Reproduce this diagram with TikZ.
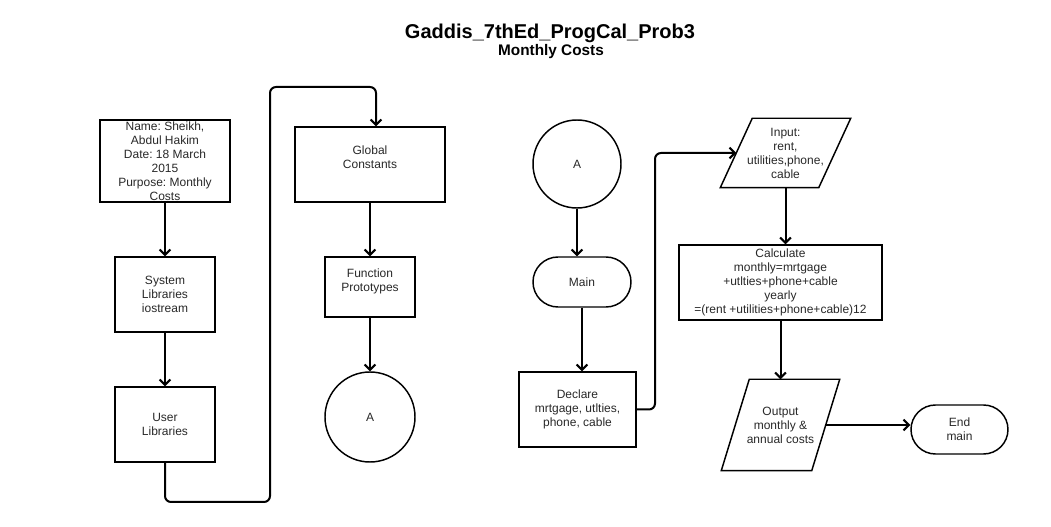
\documentclass[tikz,border=0pt]{standalone}
\usepackage{fontspec}
\setmainfont{Liberation Sans}
\usetikzlibrary{shapes.geometric,shapes.misc,arrows.meta}
\definecolor{myline}{RGB}{0,0,0}
\definecolor{mytext}{RGB}{40,40,40}
\newcommand*{\px}{0.75pt}
\newcommand*{\mytextstyle}{\fontsize{9}{10.5}\selectfont\frenchspacing\color{mytext}}
\newcommand*{\mytitlestyle}{\fontsize{15}{17}\selectfont\bfseries\color{black}}
\newcommand*{\mysubtitlestyle}{\fontsize{11.5}{13}\selectfont\bfseries\color{black}}
\newcommand{\ioshape}[2]{%
   % node name, slant in px
   \draw[line width = 1.1pt, draw = myline]
         ([xshift = #2*\px]#1.north west) -- (#1.north east)
      -- ([xshift = -#2*\px]#1.south east) -- (#1.south west) -- cycle;
}
\tikzset{
   mybox/.style = {
      draw       = myline,
      line width = 1.1pt,
      align      = center,
      font       = \mytextstyle,
      inner sep  = 0pt
   },
   myprocess/.style 2 args = {
      mybox,
      rectangle,
      minimum width  = #1*\px,
      minimum height = #2*\px
   },
   myconnector/.style = {
      mybox,
      circle,
      minimum size = #1*\px
   },
   myterminal/.style 2 args = {
      mybox,
      rounded rectangle,
      minimum width  = #1*\px,
      minimum height = #2*\px
   },
   myio/.style 2 args = {
      myprocess = {#1}{#2},
      draw      = none
   },
   myarrow/.style = {
      draw       = myline,
      line width = 1.5pt,
      rounded corners = 6*\px,
      -{Straight Barb[length = 4pt, width = 8pt]}
   }
}

\begin{document}
\begin{tikzpicture}[x = \px, y = -\px]
   \useasboundingbox (0,0) rectangle (1051,527);

   \node (title)    at (550,33) {\mytitlestyle Gaddis\_7thEd\_ProgCal\_Prob3};
   \node (subtitle) at (551,52) {\mysubtitlestyle Monthly Costs};

   % left column
   \node (name) at (165,161) [myprocess = {130}{82}]{
      Name: Sheikh,\\Abdul Hakim\\Date: 18 March\\2015\\Purpose: Monthly\\Costs
   };
   \node (syslib)  at (165,294.5) [myprocess = {100}{75}]{System\\Libraries\\iostream};
   \node (userlib) at (165,424.5) [myprocess = {100}{75}]{User\\Libraries};

   \node (gconst) at (370,164.5) [myprocess = {150}{75}]{Global\\Constants\\\mbox{}};
   \node (proto)  at (370,287)   [myprocess = {90}{60}]{Function\\Prototypes\\\mbox{}};
   \node (outA)   at (370,417)   [myconnector = 90]{A};

   % main
   \node (inA)     at (577,164)     [myconnector = 88]{A};
   \node (main)    at (582,282)     [myterminal = {98}{50}]{Main};
   \node (declare) at (577.5,409.5) [myprocess = {117}{75}]{
      Declare\\mrtgage, utlties,\\phone, cable
   };
   \node (input)   at (785.5,153)   [myio = {129}{68}]{
      Input:\\rent,\\utilities,phone,\\cable
   };
   \ioshape{input}{32}
   \node (calc)    at (780.5,282.5) [myprocess = {203}{75}]{
      Calculate\\monthly=mrtgage\\+utlties+phone+cable\\yearly\\=(rent +utilities+phone+cable)12
   };
   \node (output)  at (780.5,425)   [myio = {117}{90}]{
      Output\\monthly \&\\annual costs
   };
   \ioshape{output}{28}
   \node (endmain) at (959.5,429.5) [myterminal = {97}{49}]{End\\main};

   \coordinate (bendA) at (270,502);
   \coordinate (bendB) at (376,87);
   \coordinate (bendC) at (655,153);

   \draw[myarrow] (name)    -- (syslib);
   \draw[myarrow] (syslib)  -- (userlib);
   \draw[myarrow] (userlib.south) |- (bendA) |- (bendB) -- (bendB |- gconst.north);
   \draw[myarrow] (gconst)  -- (proto);
   \draw[myarrow] (proto)   -- (outA);

   \draw[myarrow] (inA.south)  -- (inA.south |- main.north);
   \draw[myarrow] (main.south) -- (main.south |- declare.north);
   \draw[myarrow] (declare.east) -| (bendC) -- ([xshift = 16*\px]input.west);
   \draw[myarrow] (input.south)  -- (input.south |- calc.north);
   \draw[myarrow] (calc)         -- (output);
   \draw[myarrow] ([xshift = -14*\px]output.east) -- (output.east -| endmain.west);
\end{tikzpicture}
\end{document}
